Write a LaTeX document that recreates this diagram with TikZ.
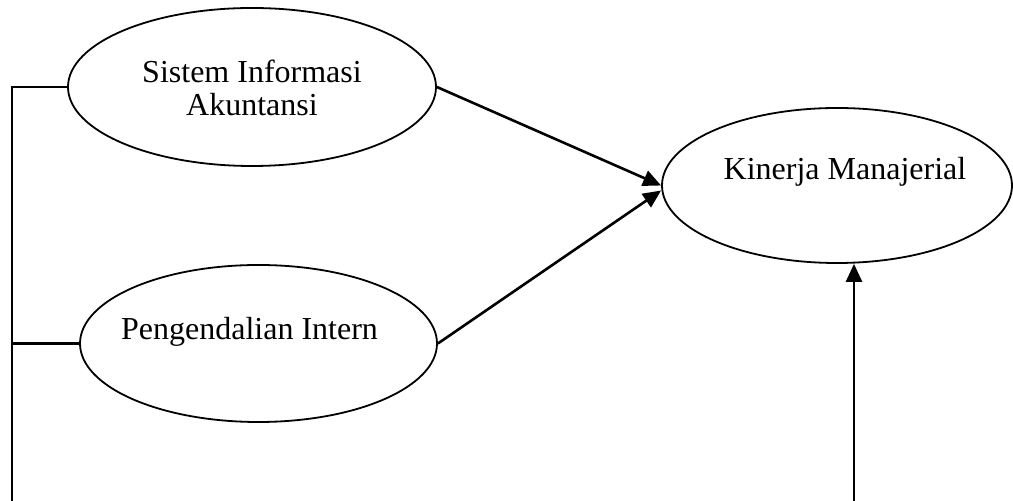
\documentclass[tikz,border=0pt]{standalone}
\usepackage{fontspec}
\setmainfont{Liberation Serif}
\usetikzlibrary{shapes.geometric,arrows.meta}
\begin{document}
\begin{tikzpicture}[x=0.5pt,y=-0.5pt,
  oval/.style={draw,ellipse,line width=0.9pt,inner sep=0pt},
  lbl/.style={font=\fontsize{16}{16.5}\selectfont,align=center,inner sep=0pt},
  conn/.style={line width=1.3pt},
  arr/.style={conn,-{Triangle[length=9pt,width=8pt]}}]
\useasboundingbox (0,0) rectangle (1013,501);
\node[oval,minimum width=184pt,minimum height=79pt] (e1) at (252,87) {};
\node[oval,minimum width=178.5pt,minimum height=78.5pt] (e2) at (258.5,343.5) {};
\node[oval,minimum width=175pt,minimum height=77.5pt] (e3) at (837,185.5) {};
\node[lbl] (t1) at (252,88) {Sistem Informasi\\Akuntansi};
\node[lbl,anchor=base] (t2) at (249.5,340) {Pengendalian Intern};
\node[lbl,anchor=base] (t3) at (845,180) {Kinerja Manajerial};
\coordinate (b1) at (12,501);
\coordinate (b2) at (854,501);
\draw[conn] (e1.west) -| (b1);
\draw[conn] (e2.west) -- (e2.west -| b1);
\draw[arr] (e1.east) -- (e3.west);
\draw[arr] (e2.east) -- ([yshift=-2.5pt]e3.west);
\draw[arr] (b2) -- (b2 |- e3.south);
\end{tikzpicture}
\end{document}
